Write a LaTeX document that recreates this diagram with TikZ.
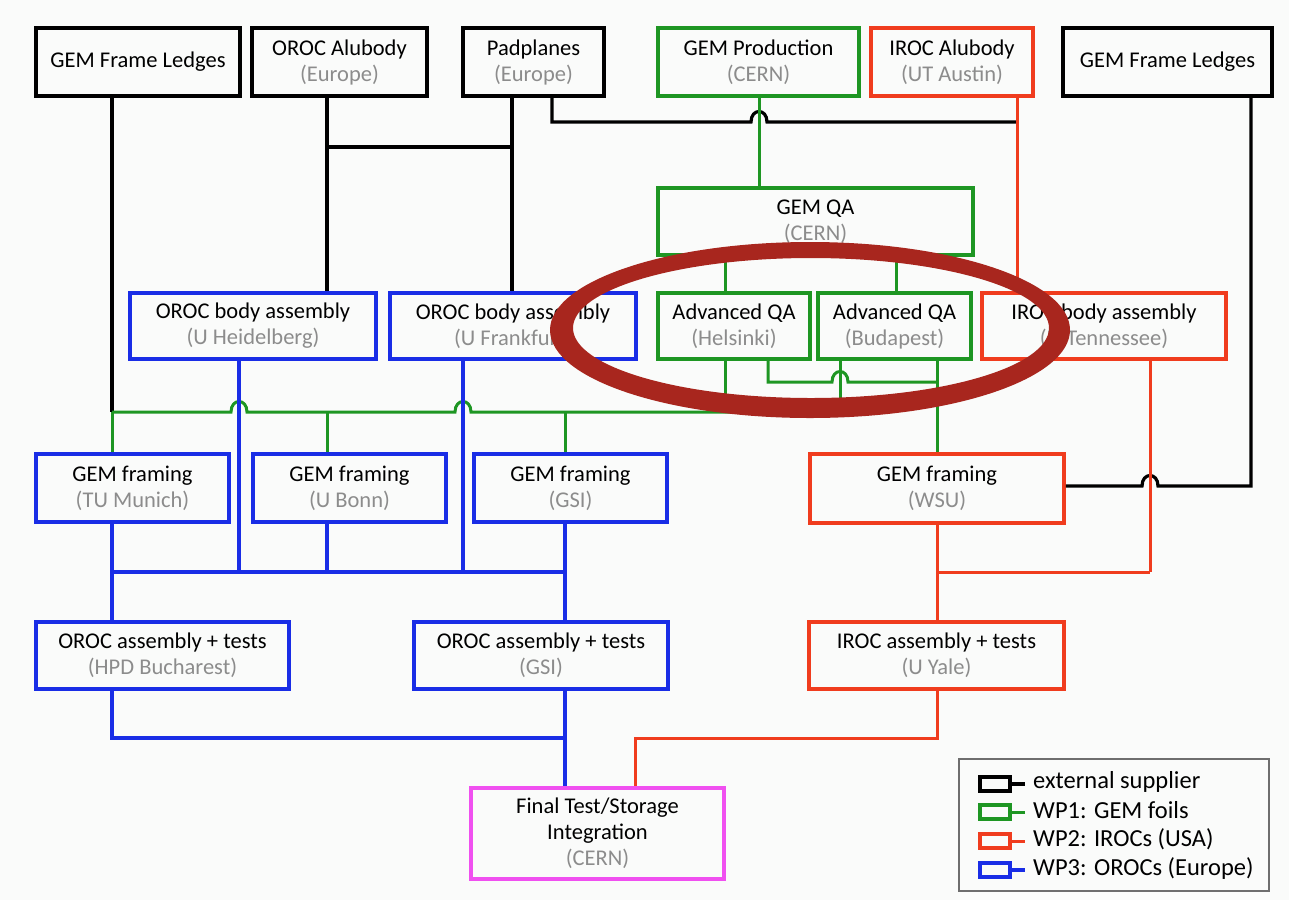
\documentclass[tikz,border=0pt]{standalone}
\usepackage{fontspec}
\setmainfont{Carlito}
\usetikzlibrary{calc}
\definecolor{cgreen}{RGB}{30,150,35}
\definecolor{cblue}{RGB}{25,45,230}
\definecolor{cred}{RGB}{240,60,30}
\definecolor{cmag}{RGB}{240,80,240}
\definecolor{cgray}{RGB}{140,140,140}
\definecolor{cell}{RGB}{168,38,30}
\definecolor{bgc}{RGB}{250,251,250}
\definecolor{legc}{RGB}{110,110,110}
\newcommand{\sub}[1]{\textcolor{cgray}{#1}}
\begin{document}
\begin{tikzpicture}[x=1pt,y=-1pt,
  box/.style={draw,line width=3.6pt,inner sep=0pt,align=center,font=\fontsize{22.5}{26}\selectfont},
  blkbox/.style={box,draw=black},
  grnbox/.style={box,draw=cgreen},
  redbox/.style={box,draw=cred},
  blubox/.style={box,draw=cblue},
  magbox/.style={box,draw=cmag},
  lnblack/.style={draw=black,line width=3.2pt},
  lngreen/.style={draw=cgreen,line width=3pt},
  lnred/.style={draw=cred,line width=3pt},
  lnblue/.style={draw=cblue,line width=3.2pt},
  legicon/.style={line width=3.2pt,inner sep=0pt,minimum width=30,minimum height=14},
  legtext/.style={anchor=west,inner sep=0pt,font=\fontsize{24.5}{28}\selectfont}]
\fill[bgc] (0,0) rectangle (1289,900);
\useasboundingbox (0,0) rectangle (1289,900);

% x positions
\coordinate (xa) at (112,0);
\coordinate (xb) at (327,0);
\coordinate (xc) at (512,0);
\coordinate (xd) at (552,0);
\coordinate (xe) at (759,0);
\coordinate (xf) at (1017,0);
\coordinate (xg) at (1251,0);
\coordinate (xh) at (725,0);
\coordinate (xi) at (896,0);
\coordinate (xj) at (768,0);
\coordinate (xk) at (840,0);
\coordinate (xl) at (937,0);
\coordinate (xm) at (1150,0);
\coordinate (xn) at (239,0);
\coordinate (xo) at (463,0);
\coordinate (xp) at (565,0);
\coordinate (xq) at (635,0);
% y levels
\coordinate (yA) at (0,122);
\coordinate (yK) at (0,147);
\coordinate (yH) at (0,382);
\coordinate (yG) at (0,412);
\coordinate (yW) at (0,486);
\coordinate (yB) at (0,572);
\coordinate (yF) at (0,738);

% boxes
\node[blkbox,minimum width=204,minimum height=68] (gfl) at (138,62) {GEM Frame Ledges};
\node[blkbox,minimum width=175,minimum height=68] (oal) at (339.5,62) {OROC Alubody\\\sub{(Europe)}};
\node[blkbox,minimum width=141,minimum height=68] (pp) at (533.5,62) {Padplanes\\\sub{(Europe)}};
\node[grnbox,minimum width=201,minimum height=68] (gp) at (758.5,62) {GEM Production\\\sub{(CERN)}};
\node[redbox,minimum width=162,minimum height=68] (ial) at (952,62) {IROC Alubody\\\sub{(UT Austin)}};
\node[blkbox,minimum width=209,minimum height=68] (gfr) at (1167.5,62) {GEM Frame Ledges};
\node[grnbox,minimum width=315,minimum height=67] (gqa) at (815.5,221.5) {GEM QA\\\sub{(CERN)}};
\node[blubox,minimum width=246,minimum height=66] (obh) at (253,326) {OROC body assembly\\\sub{(U Heidelberg)}};
\node[blubox,minimum width=246,minimum height=66] (obf) at (513,326) {OROC body assembly\\\sub{(U Frankfurt)}};
\node[grnbox,minimum width=152,minimum height=66] (hel) at (734,326) {Advanced QA\\\sub{(Helsinki)}};
\node[grnbox,minimum width=153,minimum height=66] (bud) at (894.5,326) {Advanced QA\\\sub{(Budapest)}};
\node[redbox,minimum width=244,minimum height=66] (ibt) at (1104,326) {IROC body assembly\\\sub{(U Tennessee)}};
\node[blubox,minimum width=193,minimum height=68] (gfm) at (132.5,488) {GEM framing\\\sub{(TU Munich)}};
\node[blubox,minimum width=193,minimum height=68] (gfb) at (349.5,488) {GEM framing\\\sub{(U Bonn)}};
\node[blubox,minimum width=193,minimum height=68] (gfg) at (570.5,488) {GEM framing\\\sub{(GSI)}};
\node[redbox,minimum width=254,minimum height=69] (gfw) at (937,488.5) {GEM framing\\\sub{(WSU)}};
\node[blubox,minimum width=253,minimum height=67] (oah) at (162.5,655.5) {OROC assembly + tests\\\sub{(HPD Bucharest)}};
\node[blubox,minimum width=254,minimum height=67] (oag) at (541,655.5) {OROC assembly + tests\\\sub{(GSI)}};
\node[redbox,minimum width=255,minimum height=67] (iay) at (936.5,655.5) {IROC assembly + tests\\\sub{(U Yale)}};
\node[magbox,minimum width=253,minimum height=91] (fin) at (597.5,833.5) {Final Test/Storage\\Integration\\\sub{(CERN)}};

% black connectors
\draw[lnblack] (xa |- gfl.south) -- (xa |- yG);
\draw[lnblack] (xb |- oal.south) -- (xb |- obh.north);
\draw[lnblack] (xc |- pp.south) -- (xc |- obf.north);
\draw[lnblack] (xb |- yK) -- (xc |- yK);
\draw[lnblack] (xd |- pp.south) -- (xd |- yA) -- ($(xe |- yA)+(-8,0)$)
  .. controls +(0,-14) and +(0,-14) .. ($(xe |- yA)+(8,0)$) -- (xf |- yA);
\draw[lnblack] (xg |- gfr.south) -- (xg |- yW) -- ($(xm |- yW)+(8,0)$)
  .. controls +(0,-14) and +(0,-14) .. ($(xm |- yW)+(-8,0)$) -- (gfw.east |- yW);

% green connectors
\draw[lngreen] (xe |- gp.south) -- (xe |- gqa.north);
\draw[lngreen] (xh |- gqa.south) -- (xh |- hel.north);
\draw[lngreen] (xi |- gqa.south) -- (xi |- bud.north);
\draw[lngreen] (xh |- hel.south) -- (xh |- yG);
\draw[lngreen] (xj |- hel.south) -- (xj |- yH) -- ($(xk |- yH)+(-8,0)$)
  .. controls +(0,-14) and +(0,-14) .. ($(xk |- yH)+(8,0)$) -- (xl |- yH);
\draw[lngreen] (xk |- bud.south) -- (xk |- yG);
\draw[lngreen] (xl |- bud.south) -- (xl |- gfw.north);
\draw[lngreen] (xa |- yG) -- ($(xn |- yG)+(-8,0)$)
  .. controls +(0,-14) and +(0,-14) .. ($(xn |- yG)+(8,0)$) -- ($(xo |- yG)+(-8,0)$)
  .. controls +(0,-14) and +(0,-14) .. ($(xo |- yG)+(8,0)$) -- (xk |- yG);
\draw[lngreen] (xa |- yG) -- (xa |- gfm.north);
\draw[lngreen] (xb |- yG) -- (xb |- gfb.north);
\draw[lngreen] (xp |- yG) -- (xp |- gfg.north);

% red connectors
\draw[lnred] (xf |- ial.south) -- (xf |- ibt.north);
\draw[lnred] (xm |- ibt.south) -- (xm |- yB);
\draw[lnred] (xl |- gfw.south) -- (xl |- iay.north);
\draw[lnred] (xl |- yB) -- (xm |- yB);
\draw[lnred] (xl |- iay.south) -- (xl |- yF) -- (xq |- yF) -- (xq |- fin.north);

% blue connectors
\draw[lnblue] (xn |- obh.south) -- (xn |- yB);
\draw[lnblue] (xo |- obf.south) -- (xo |- yB);
\draw[lnblue] (xa |- gfm.south) -- (xa |- oah.north);
\draw[lnblue] (xb |- gfb.south) -- (xb |- yB);
\draw[lnblue] (xp |- gfg.south) -- (xp |- oag.north);
\draw[lnblue] (xa |- yB) -- (xp |- yB);
\draw[lnblue] (xa |- oah.south) -- (xa |- yF) -- (xp |- yF);
\draw[lnblue] (xp |- oag.south) -- (xp |- fin.north);

% legend
\node[draw=legc,line width=2.2pt,minimum width=310,minimum height=132,inner sep=0pt] (leg) at (1114,825) {};
\node[legicon,draw=black] (l1) at (995,784) {};
\node[legicon,draw=cgreen] (l2) at (995,812) {};
\node[legicon,draw=cred] (l3) at (995,841) {};
\node[legicon,draw=cblue] (l4) at (995,870) {};
\draw[lnblack] (l1.east) -- ++(13,0);
\draw[lngreen] (l2.east) -- ++(13,0);
\draw[lnred] (l3.east) -- ++(13,0);
\draw[lnblue] (l4.east) -- ++(13,0);
\node[legtext] (t1) at (1033,782) {external supplier};
\node[legtext] (t2) at (1033,810) {WP1: GEM foils};
\node[legtext] (t3) at (1033,839) {WP2: IROCs (USA)};
\node[legtext] (t4) at (1033,868) {WP3: OROCs (Europe)};

% highlight ellipse
\fill[cell,even odd rule] (810,330) ellipse [x radius=260pt, y radius=88pt]
  (811,328) ellipse [x radius=238pt, y radius=70pt];
\end{tikzpicture}
\end{document}
